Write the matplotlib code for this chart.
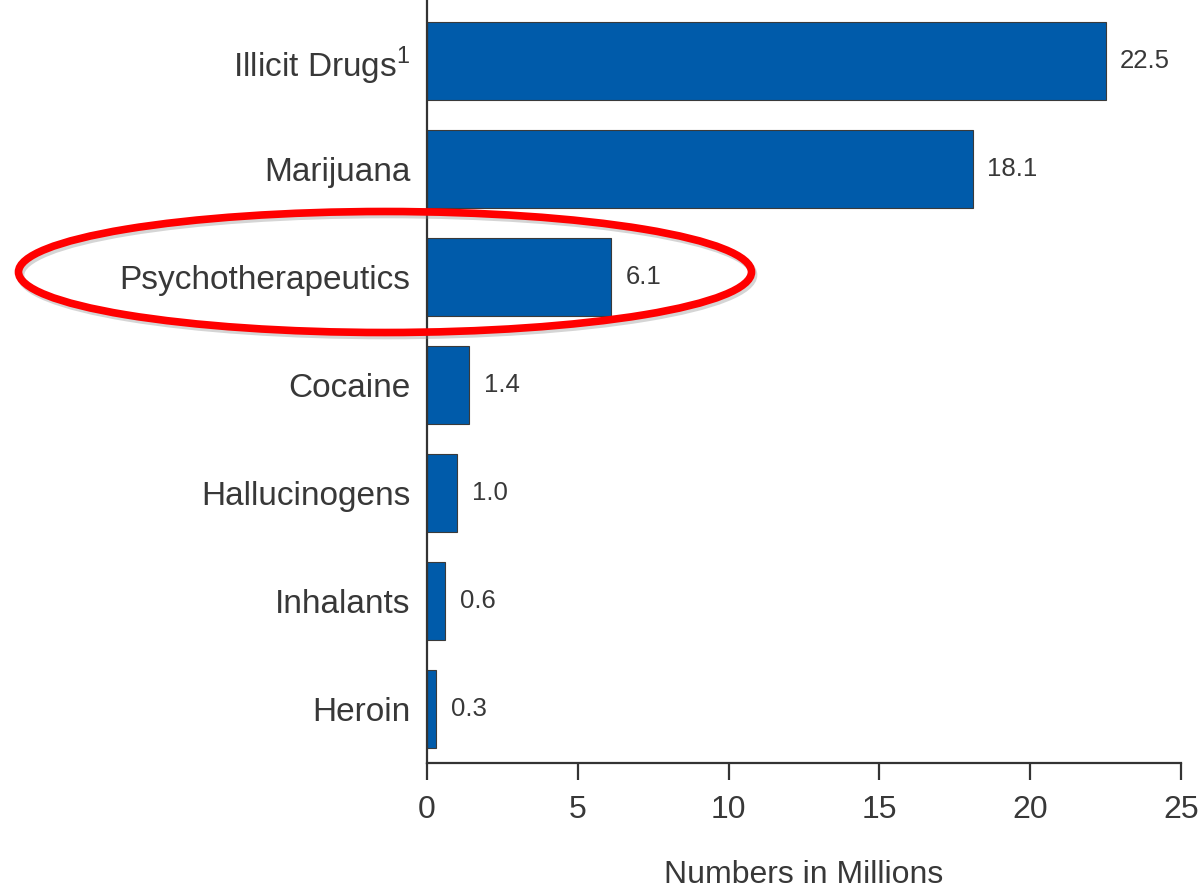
import matplotlib
matplotlib.use("Agg")
import matplotlib.pyplot as plt
from matplotlib.patches import Ellipse

plt.rcParams['font.family'] = ['Liberation Sans', 'DejaVu Sans']
plt.rcParams['mathtext.fontset'] = 'custom'
plt.rcParams['mathtext.rm'] = 'Liberation Sans'

categories = ["Illicit Drugs$^{\\mathregular{1}}$", "Marijuana", "Psychotherapeutics",
              "Cocaine", "Hallucinogens", "Inhalants", "Heroin"]
values = [22.5, 18.1, 6.1, 1.4, 1.0, 0.6, 0.3]
value_labels = ["22.5", "18.1", "6.1", "1.4", "1.0", "0.6", "0.3"]
xticks = [0, 5, 10, 15, 20, 25]

W, H = 1202, 890
fig = plt.figure(figsize=(W / 100, H / 100), dpi=100)
ax = fig.add_axes([427 / W, 1 - 763 / H, (1181 - 427) / W, 763 / H])

txt = "#383838"
n = len(categories)
ypos = [n - 1 - i for i in range(n)]
ax.barh(ypos, values, height=0.72, color="#005BAA", edgecolor="#3a3a3a", linewidth=0.8, zorder=2)

for y, v, lab in zip(ypos, values, value_labels):
    ax.text(v + 0.48, y, lab, va="center", ha="left", fontsize=18.5, color=txt)

ax.set_yticks(ypos)
ax.set_yticklabels(categories, fontsize=24, color=txt)
ax.tick_params(axis="y", length=0, pad=12)
ax.set_xticks(xticks)
ax.set_xticklabels([str(t) for t in xticks], fontsize=23, color=txt)
ax.tick_params(axis="x", length=12, width=1.6, color="#333333", pad=11)
ax.set_xlim(0, 25)
ax.set_ylim(-0.5, n - 1 + 0.565)

for s in ["top", "right"]:
    ax.spines[s].set_visible(False)
for s in ["left", "bottom"]:
    ax.spines[s].set_linewidth(1.6)
    ax.spines[s].set_color("#333333")

ax.set_xlabel("Numbers in Millions", fontsize=23, color=txt, labelpad=25)

# highlight ellipse
cx, cy = 385 / W, 1 - 272 / H
ew, eh = 733 / W, 121 / H
shadow = Ellipse((cx + 2 / W, cy - 3 / H), ew, eh, transform=fig.transFigure,
                 fill=False, edgecolor="#888888", linewidth=5.5, alpha=0.35, zorder=9)
fig.add_artist(shadow)
ell = Ellipse((cx, cy), ew, eh, transform=fig.transFigure,
              fill=False, edgecolor="#FF0000", linewidth=5.5, zorder=10)
fig.add_artist(ell)

fig.savefig("out.png", dpi=100)
